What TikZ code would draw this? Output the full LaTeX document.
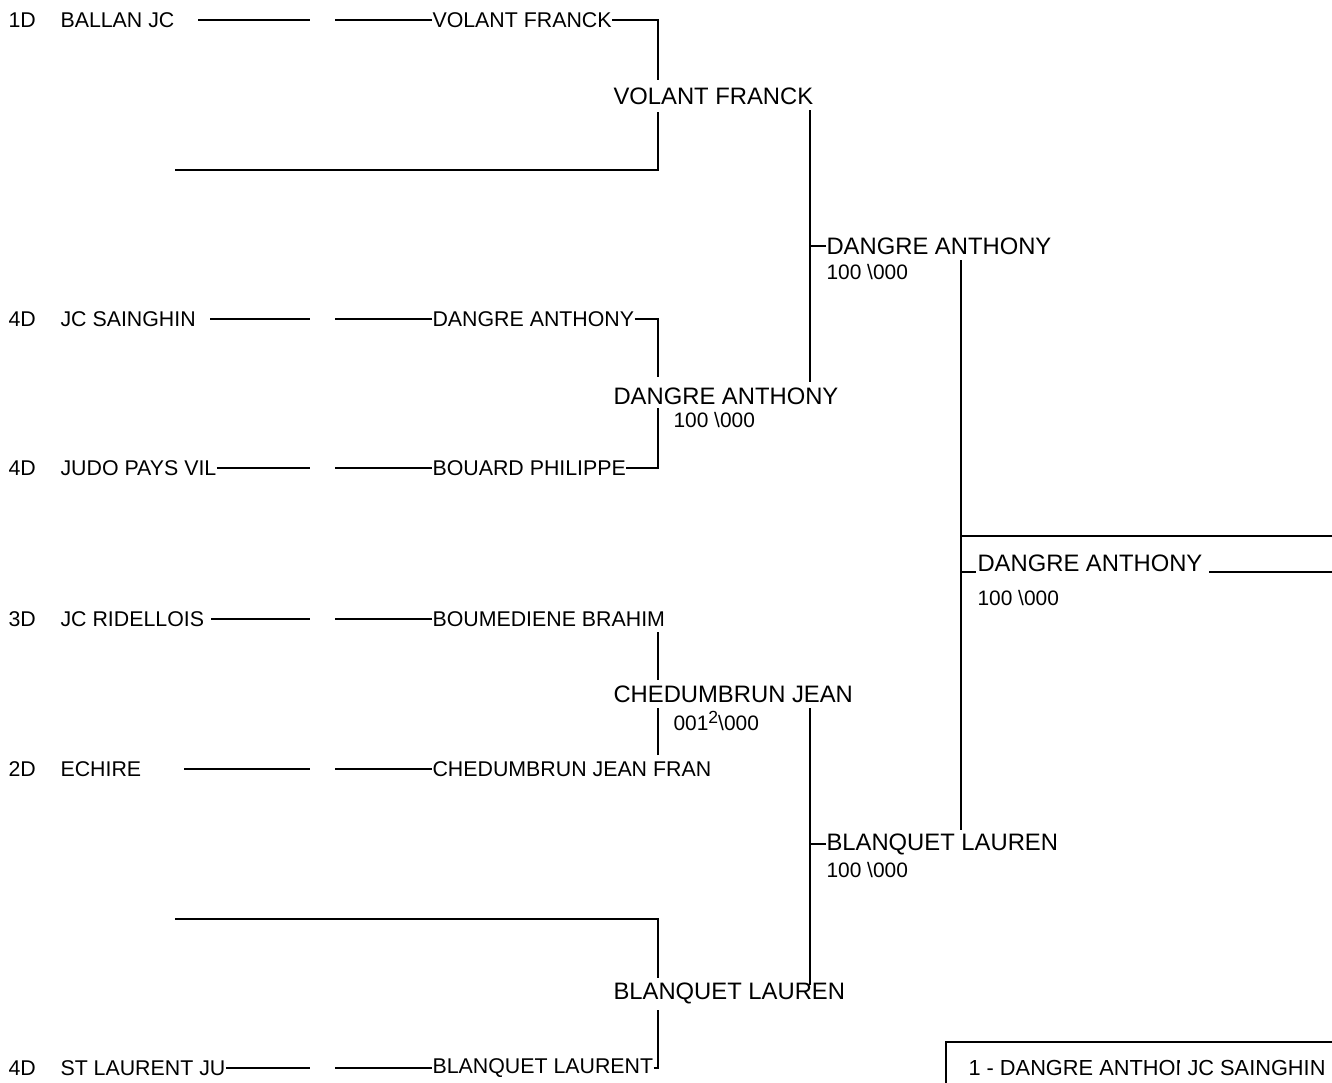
\documentclass[tikz,border=0pt]{standalone}
\usepackage{fontspec}
\setmainfont{Liberation Sans}
\usepackage{tikz}
\tikzset{
  entry/.style={anchor=west, inner sep=0pt, font=\fontsize{12.15}{14}\selectfont},
  winner/.style={anchor=west, inner sep=0pt, font=\fontsize{13.55}{16}\selectfont},
  score/.style={anchor=west, inner sep=0pt, font=\fontsize{11.9}{14}\selectfont},
  bracket/.style={line width=0.6pt},
}

\begin{document}
\begin{tikzpicture}[x=0.02cm, y=-0.02cm, bracket]
    \useasboundingbox (0,0) rectangle (1332,1082);
    % first round
    \node[entry] (s1) at (8,20) {1D};
    \node[entry] (c1) at (60,20) {BALLAN JC};
    \node[entry] (p1) at (432,20) {VOLANT FRANCK};
    \node[entry] (s3) at (8,319) {4D};
    \node[entry] (c3) at (60,319) {JC SAINGHIN};
    \node[entry] (p3) at (432,319) {DANGRE ANTHONY};
    \node[entry] (s4) at (8,468) {4D};
    \node[entry] (c4) at (60,468) {JUDO PAYS VIL};
    \node[entry] (p4) at (432,468) {BOUARD PHILIPPE};
    \node[entry] (s5) at (8,619) {3D};
    \node[entry] (c5) at (60,619) {JC RIDELLOIS};
    \node[entry] (p5) at (432,619) {BOUMEDIENE BRAHIM};
    \node[entry] (s6) at (8,769) {2D};
    \node[entry] (c6) at (60,769) {ECHIRE};
    \node[entry] (p6) at (432,769) {CHEDUMBRUN JEAN FRAN};
    \node[entry] (s8) at (8,1068) {4D};
    \node[entry] (c8) at (60,1068) {ST LAURENT JU};
    \node[entry] (p8) at (432,1068) {BLANQUET LAURENT};
    % slots
    \coordinate (l1) at (198,20);   \coordinate (m1) at (310,20);   \coordinate (r1) at (335,20);
    \coordinate (l3) at (210,319);  \coordinate (m3) at (310,319);  \coordinate (r3) at (335,319);
    \coordinate (m4) at (310,468);  \coordinate (r4) at (335,468);
    \coordinate (l5) at (211,619);  \coordinate (m5) at (310,619);  \coordinate (r5) at (335,619);
    \coordinate (l6) at (184,769);  \coordinate (m6) at (310,769);  \coordinate (r6) at (335,769);
    \coordinate (m8) at (310,1068); \coordinate (r8) at (335,1068);
    \draw (l1) -- (m1) (r1) -- (p1.west);
    \draw (l3) -- (m3) (r3) -- (p3.west);
    \draw (c4.east) -- (m4) (r4) -- (p4.west);
    \draw (l5) -- (m5) (r5) -- (p5.west);
    \draw (l6) -- (m6) (r6) -- (p6.west);
    \draw (c8.east) -- (m8) (r8) -- (p8.west);
    % empty slots
    \coordinate (e2) at (175,170);
    \coordinate (e7) at (175,919);
    % second round
    \node[winner] (w1) at (613,96) {VOLANT FRANCK};
    \node[winner] (w2) at (613,396) {DANGRE ANTHONY};
    \node[score] (w2s) at (673,420) {100 \textbackslash000};
    \node[winner] (w3) at (613,694) {CHEDUMBRUN JEAN};
    \node[score] (w3s) at (673,721) {001\raisebox{3.5pt}{\fontsize{10}{10}\selectfont 2}\textbackslash000};
    \node[winner] (w4) at (613,993) {BLANQUET LAUREN};
    \draw (p1.east) -- (658,20) -- (658,80);
    \draw (e2) -- (658,170) -- (658,112);
    \draw (p3.east) -- (658,319) -- (658,377);
    \draw (p4.east) -- (658,468) -- (658,408);
    \draw (658,632) -- (658,680);
    \draw (658,755) -- (658,708);
    \draw (e7) -- (658,919) -- (658,978);
    \draw (p8.east) -- (658,1068) -- (658,1010);
    % semi-finals
    \node[winner] (h1) at (826,246) {DANGRE ANTHONY};
    \node[score] (h1s) at (826,272) {100 \textbackslash000};
    \node[winner] (h2) at (826,844) {BLANQUET LAUREN};
    \node[score] (h2s) at (826,870) {100 \textbackslash000};
    \draw (810,110) -- (810,382);
    \draw (810,246) -- (h1.west);
    \draw (810,708) -- (810,985);
    \draw (810,844) -- (h2.west);
    % final
    \node[winner] (fin) at (977,563) {DANGRE ANTHONY};
    \node[score] (fins) at (977,598) {100 \textbackslash000};
    \coordinate (redge) at (1332,536);
    \coordinate (uline) at (1209,572);
    \coordinate (uend) at (1332,572);
    \draw (961,260) -- (961,830);
    \draw (961,536) -- (redge);
    \draw (961,572) -- (976,572);
    \draw (uline) -- (uend);
    % ranking box
    \draw (946,1090) -- (946,1042) -- (1332,1042);
    \begin{scope}
        \clip (960,1050) rectangle (1179,1085);
        \node[entry, font=\fontsize{12.4}{14}\selectfont] (rk1) at (968,1068) {1 - DANGRE ANTHONY};
    \end{scope}
    \node[entry, font=\fontsize{12.4}{14}\selectfont] (rk1c) at (1187,1068) {JC SAINGHIN};
\end{tikzpicture}
\end{document}
